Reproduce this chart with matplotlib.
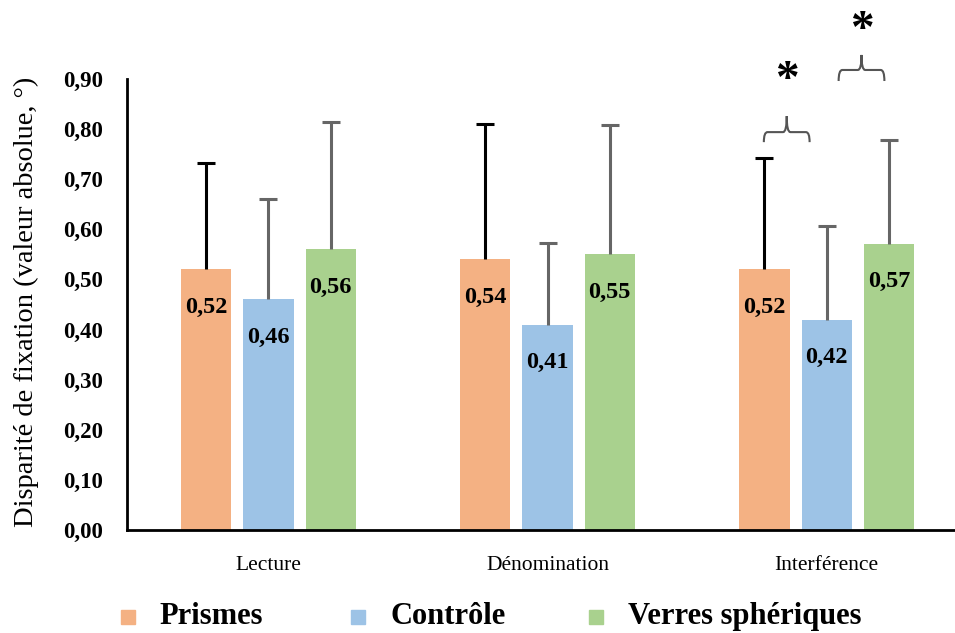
import matplotlib
matplotlib.use("Agg")
import matplotlib.pyplot as plt
from matplotlib.lines import Line2D
from matplotlib.path import Path
from matplotlib.patches import PathPatch
import numpy as np

categories = ["Lecture", "Dénomination", "Interférence"]
series = ["Prismes", "Contrôle", "Verres sphériques"]
prismes = [0.52, 0.54, 0.52]
controle = [0.46, 0.41, 0.42]
verres = [0.56, 0.55, 0.57]
sd_prismes = [0.212, 0.270, 0.222]
sd_controle = [0.200, 0.162, 0.186]
sd_verres = [0.255, 0.258, 0.208]
yticks = [0.0, 0.1, 0.2, 0.3, 0.4, 0.5, 0.6, 0.7, 0.8, 0.9]

colors = ["#F4B183", "#9DC3E6", "#A9D18E"]
err_colors = ["#000000", "#666666", "#666666"]

plt.rcParams["font.family"] = ["Liberation Serif", "DejaVu Serif"]

W, H = 955, 633
fig = plt.figure(figsize=(W / 100, H / 100), dpi=100)
ax = fig.add_axes([127 / W, 103 / H, 1 - 127 / W, 451 / H])

x = np.arange(len(categories))
width = 0.18
step = 0.223
values = [prismes, controle, verres]
sds = [sd_prismes, sd_controle, sd_verres]

for i, (vals, sd) in enumerate(zip(values, sds)):
    pos = x + (i - 1) * step
    vals = np.array(vals)
    tops = vals + np.array(sd)
    ax.bar(pos, vals, width, color=colors[i], zorder=2)
    # upper error whisker with a cap at the top only
    ax.vlines(pos, vals, tops, colors=err_colors[i], linewidth=2.2, zorder=3)
    ax.plot(pos, tops, ls="none", marker="_", markersize=13, mew=2.2,
            color=err_colors[i], zorder=3)
    for px, v in zip(pos, vals):
        ax.text(px, v - 0.075, f"{v:.2f}".replace(".", ","), ha="center", va="center",
                fontsize=17.5, fontweight="bold", zorder=4)

ax.set_ylim(0, 0.9)
ax.set_xlim(-0.507, 2.46)
ax.set_yticks(yticks)
ax.set_yticklabels([f"{t:.2f}".replace(".", ",") for t in yticks], fontsize=16.5, fontweight="bold")
ax.set_xticks(x)
ax.set_xticklabels(categories, fontsize=15.5)
ax.tick_params(axis="both", length=0)
ax.tick_params(axis="y", pad=17)
ax.tick_params(axis="x", pad=19)
for s in ["top", "right"]:
    ax.spines[s].set_visible(False)
for s in ["left", "bottom"]:
    ax.spines[s].set_linewidth(2)
    ax.spines[s].set_color("black")
ax.set_ylabel("Disparité de fixation (valeur absolue, °)", fontsize=20.5)
ax.yaxis.set_label_coords(-0.106, 0.505)


def brace(ax, x0, x1, y, drop, rise, color="#555555"):
    xc = (x0 + x1) / 2
    r = (x1 - x0) * 0.08
    verts = [
        (x0, y - drop), (x0, y), (x0 + r, y),
        (xc - r, y), (xc, y), (xc, y + rise),
        (xc, y), (xc + r, y),
        (x1 - r, y), (x1, y), (x1, y - drop),
    ]
    codes = [Path.MOVETO, Path.CURVE3, Path.CURVE3,
             Path.LINETO, Path.CURVE3, Path.CURVE3,
             Path.CURVE3, Path.CURVE3,
             Path.LINETO, Path.CURVE3, Path.CURVE3]
    ax.add_patch(PathPatch(Path(verts, codes), fill=False, edgecolor=color,
                           linewidth=1.5, clip_on=False, zorder=5))


# significance markers on Interférence
brace(ax, 2 - 0.225, 2 - 0.061, 0.794, 0.020, 0.032)
ax.text(2 - 0.143, 0.897, "*", ha="center", va="center", fontsize=34,
        fontweight="bold", clip_on=False)
brace(ax, 2 + 0.043, 2 + 0.207, 0.918, 0.022, 0.030)
ax.text(2 + 0.125, 0.995, "*", ha="center", va="center", fontsize=34,
        fontweight="bold", clip_on=False)

# legend entries placed along the bottom
marker_x = [128, 358, 596]
text_x = [159, 390, 628]
for name, c, mx, tx in zip(series, colors, marker_x, text_x):
    fig.add_artist(Line2D([mx / W], [1 - 617 / H], transform=fig.transFigure,
                          marker="s", markersize=9.5, color=c, ls="none"))
    fig.text(tx / W, 1 - 624 / H, name, ha="left", va="baseline",
             fontsize=22, fontweight="bold")

fig.savefig("out.png", dpi=100)
